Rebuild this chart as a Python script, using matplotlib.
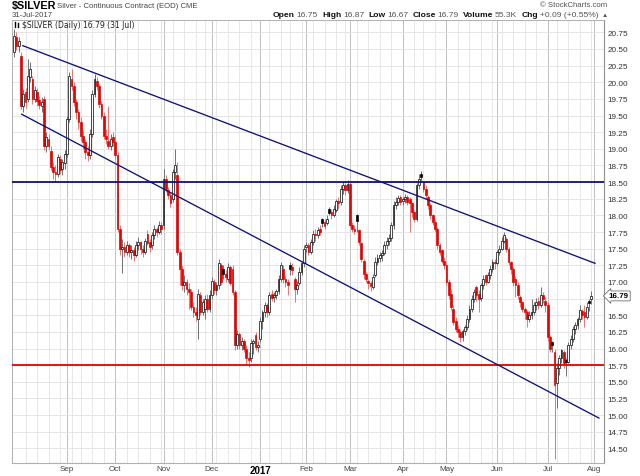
import numpy as np
import pandas as pd
import matplotlib
matplotlib.use("Agg")
import matplotlib.pyplot as plt
from matplotlib.lines import Line2D
import matplotlib.transforms as mtransforms

# $SILVER daily candles, 1-Aug-2016 .. 31-Jul-2017 (one row per month)
opens = [
    20.45, 20.68, 20.55, 20.40, 19.65, 19.85, 19.75, 20.08, 20.05, 19.75, 19.85, 19.73, 19.65, 19.75, 19.05, 19.15, 18.96, 18.72, 18.65, 18.62, 18.85, 18.70, 18.78,
    18.92, 19.45, 20.05, 19.95, 19.70, 19.55, 19.40, 19.20, 19.10, 18.95, 18.90, 19.22, 19.82, 20.02, 19.95, 19.68, 19.50, 19.20, 19.12, 19.05, 19.18,
    19.10, 18.90, 17.80, 17.50, 17.52, 17.45, 17.55, 17.45, 17.48, 17.40, 17.55, 17.60, 17.50, 17.45, 17.72, 17.60, 17.55, 17.70, 17.80, 17.75, 17.86,
    17.85, 18.55, 18.38, 18.30, 18.25, 18.65, 18.60, 17.45, 17.20, 16.95, 17.00, 16.90, 16.85, 16.62, 16.55, 16.45, 16.80, 16.55, 16.60, 16.75, 16.60,
    16.80, 17.00, 16.88, 16.95, 17.25, 17.20, 17.12, 17.05, 17.22, 17.20, 16.85, 16.05, 16.22, 16.05, 16.12, 16.00, 15.85, 15.85, 16.08, 16.20, 16.02,
    16.15, 16.42, 16.55, 16.65, 16.55, 16.82, 16.78, 16.80, 16.86, 17.05, 17.20, 17.05, 17.00, 17.25, 17.22, 17.05, 16.90, 16.98, 17.15, 17.28,
    17.52, 17.56, 17.45, 17.60, 17.72, 17.70, 17.80, 17.94, 17.90, 17.88, 18.10, 18.05, 18.00, 18.08, 18.22, 18.20, 18.40, 18.45, 18.38,
    18.47, 17.85, 17.80, 18.00, 17.78, 17.58, 17.32, 17.12, 17.02, 16.98, 16.92, 17.10, 17.30, 17.36, 17.40, 17.43, 17.55, 17.62, 17.66, 17.85, 18.15, 18.20, 18.27,
    18.22, 18.24, 18.28, 18.25, 18.18, 18.05, 17.95, 18.45, 18.62, 18.50, 18.40, 18.28, 18.15, 18.00, 17.90, 17.80, 17.55, 17.48, 17.32,
    17.25, 17.00, 16.82, 16.60, 16.42, 16.30, 16.25, 16.18, 16.26, 16.32, 16.45, 16.60, 16.75, 16.92, 16.82, 16.76, 16.95, 17.10, 17.00, 17.10, 17.20, 17.30,
    17.28, 17.45, 17.50, 17.62, 17.65, 17.50, 17.30, 17.20, 17.05, 16.95, 16.78, 16.70, 16.60, 16.55, 16.45, 16.50, 16.55, 16.65, 16.72, 16.65, 16.80, 16.72,
    16.65, 16.18, 16.10, 15.95, 15.48, 15.70, 15.85, 15.95, 15.82, 15.80, 16.05, 16.15, 16.30, 16.35, 16.45, 16.56, 16.55, 16.48, 16.72, 16.75,
]
highs = [
    20.80, 20.75, 20.68, 20.45, 19.90, 19.92, 20.35, 20.30, 20.10, 19.95, 19.92, 19.80, 19.78, 19.80, 19.25, 19.22, 19.05, 18.80, 18.75, 18.92, 18.90, 18.85, 18.98,
    19.50, 20.15, 20.20, 20.00, 19.75, 19.60, 19.48, 19.28, 19.15, 19.05, 19.30, 19.88, 20.12, 20.08, 19.98, 19.72, 19.55, 19.30, 19.65, 19.22, 19.25,
    19.20, 18.95, 17.85, 17.65, 17.60, 17.62, 17.58, 17.55, 17.52, 17.62, 17.68, 17.62, 17.55, 17.66, 17.78, 17.65, 17.75, 17.85, 17.82, 17.92, 17.90,
    18.70, 18.60, 18.42, 18.35, 18.70, 19.00, 18.80, 17.50, 17.25, 17.10, 17.05, 16.98, 16.90, 16.70, 16.62, 16.90, 16.85, 16.75, 16.80, 16.82, 16.88,
    17.08, 17.05, 17.00, 17.35, 17.28, 17.25, 17.18, 17.28, 17.25, 17.25, 16.88, 16.28, 16.25, 16.18, 16.15, 16.05, 15.95, 16.15, 16.15, 16.25, 16.12,
    16.48, 16.58, 16.70, 16.68, 16.85, 16.88, 16.85, 16.90, 17.10, 17.30, 17.25, 17.10, 17.05, 17.30, 17.28, 17.08, 17.02, 17.22, 17.32, 17.55,
    17.60, 17.58, 17.65, 17.78, 17.80, 17.82, 17.85, 17.96, 17.94, 18.00, 18.12, 18.10, 18.15, 18.25, 18.28, 18.45, 18.50, 18.48, 18.53,
    18.50, 17.90, 17.85, 18.02, 17.80, 17.60, 17.35, 17.15, 17.05, 17.02, 17.12, 17.38, 17.42, 17.45, 17.48, 17.62, 17.68, 17.72, 17.90, 18.22, 18.28, 18.30, 18.30,
    18.28, 18.32, 18.30, 18.28, 18.20, 18.08, 18.48, 18.62, 18.67, 18.52, 18.45, 18.30, 18.18, 18.02, 17.95, 17.82, 17.58, 17.50, 17.38,
    17.28, 17.05, 16.90, 16.65, 16.48, 16.35, 16.30, 16.30, 16.36, 16.50, 16.65, 16.80, 16.90, 16.95, 16.88, 16.98, 17.10, 17.12, 17.15, 17.25, 17.35, 17.35,
    17.48, 17.55, 17.68, 17.75, 17.68, 17.52, 17.32, 17.22, 17.09, 17.00, 16.80, 16.72, 16.62, 16.58, 16.56, 16.75, 16.70, 16.76, 16.78, 16.92, 16.85, 16.78,
    16.70, 16.20, 16.12, 16.00, 15.78, 15.90, 16.00, 15.98, 15.85, 16.10, 16.20, 16.34, 16.40, 16.48, 16.65, 16.60, 16.65, 16.70, 16.75, 16.87,
]
lows = [
    20.38, 20.48, 20.45, 19.60, 19.55, 19.62, 19.70, 20.00, 19.68, 19.70, 19.65, 19.60, 19.55, 18.98, 18.95, 18.98, 18.68, 18.55, 18.50, 18.58, 18.62, 18.60, 18.70,
    18.88, 19.40, 19.88, 19.65, 19.45, 19.30, 19.12, 19.00, 18.85, 18.82, 18.85, 19.18, 19.78, 19.88, 19.62, 19.45, 19.15, 19.08, 19.00, 18.98, 19.05,
    18.85, 17.75, 17.40, 17.14, 17.38, 17.40, 17.38, 17.35, 17.32, 17.38, 17.48, 17.42, 17.38, 17.42, 17.55, 17.45, 17.50, 17.65, 17.68, 17.72, 17.72,
    17.80, 18.35, 18.25, 18.12, 18.20, 18.55, 17.40, 16.95, 16.88, 16.85, 16.80, 16.60, 16.58, 16.48, 16.42, 16.14, 16.50, 16.50, 16.45, 16.55, 16.55,
    16.75, 16.82, 16.80, 16.90, 16.95, 17.05, 17.00, 17.00, 16.95, 16.80, 15.98, 16.00, 16.00, 15.98, 15.95, 15.75, 15.72, 15.80, 15.92, 15.98, 15.95,
    16.10, 16.30, 16.48, 16.48, 16.50, 16.72, 16.70, 16.75, 16.82, 17.00, 16.98, 16.92, 16.80, 17.10, 17.10, 16.70, 16.82, 16.95, 17.10, 17.22,
    17.45, 17.40, 17.42, 17.55, 17.62, 17.66, 17.70, 17.82, 17.80, 17.85, 18.00, 17.95, 17.98, 18.05, 18.10, 18.15, 18.32, 18.30, 18.33,
    17.82, 17.75, 17.72, 17.75, 17.55, 17.30, 17.05, 17.00, 16.90, 16.87, 16.90, 17.08, 17.25, 17.30, 17.32, 17.40, 17.50, 17.55, 17.62, 17.80, 18.10, 18.15, 18.15,
    18.15, 18.18, 18.15, 17.75, 17.98, 17.90, 17.92, 18.40, 18.52, 18.35, 18.25, 18.10, 17.95, 17.85, 17.75, 17.50, 17.40, 17.28, 17.20,
    16.95, 16.75, 16.58, 16.35, 16.25, 16.18, 16.10, 16.12, 16.20, 16.28, 16.40, 16.55, 16.70, 16.72, 16.55, 16.72, 16.90, 16.95, 16.98, 17.05, 17.15, 17.20,
    17.25, 17.40, 17.48, 17.58, 17.45, 17.25, 17.12, 16.94, 16.78, 16.74, 16.62, 16.55, 16.45, 16.32, 16.40, 16.45, 16.50, 16.58, 16.60, 16.62, 16.68, 16.55,
    16.12, 15.95, 15.95, 14.34, 15.10, 15.60, 15.78, 15.70, 15.59, 15.78, 16.00, 16.10, 16.22, 16.30, 16.40, 16.45, 16.32, 16.45, 16.56, 16.67,
]
closes = [
    20.70, 20.55, 20.62, 19.65, 19.82, 19.70, 20.10, 20.20, 19.75, 19.88, 19.72, 19.66, 19.70, 19.05, 19.18, 19.05, 18.72, 18.65, 18.62, 18.88, 18.68, 18.80, 18.92,
    19.45, 20.10, 19.95, 19.70, 19.55, 19.40, 19.20, 19.10, 18.95, 18.90, 19.22, 19.82, 20.05, 19.95, 19.68, 19.50, 19.20, 19.15, 19.05, 19.15, 19.10,
    18.90, 17.80, 17.50, 17.52, 17.45, 17.55, 17.45, 17.48, 17.40, 17.55, 17.60, 17.50, 17.45, 17.62, 17.58, 17.52, 17.70, 17.80, 17.75, 17.86, 17.80,
    18.55, 18.40, 18.30, 18.18, 18.65, 18.75, 17.45, 17.20, 16.95, 17.00, 16.90, 16.85, 16.62, 16.55, 16.50, 16.82, 16.55, 16.70, 16.75, 16.60, 16.80,
    17.02, 16.88, 16.95, 17.28, 17.00, 17.12, 17.08, 17.22, 16.98, 16.85, 16.05, 16.22, 16.05, 16.12, 16.00, 15.85, 15.82, 16.08, 16.12, 16.02, 16.05,
    16.42, 16.55, 16.65, 16.55, 16.80, 16.76, 16.80, 16.86, 17.05, 17.25, 17.05, 17.00, 16.95, 17.20, 17.18, 16.90, 16.95, 17.15, 17.28, 17.50,
    17.55, 17.45, 17.60, 17.72, 17.70, 17.78, 17.75, 17.88, 17.84, 17.95, 18.03, 18.00, 18.10, 18.22, 18.18, 18.40, 18.45, 18.38, 18.47,
    17.85, 17.80, 17.76, 17.92, 17.60, 17.35, 17.12, 17.05, 16.98, 16.94, 17.08, 17.30, 17.36, 17.40, 17.43, 17.55, 17.62, 17.66, 17.85, 18.15, 18.20, 18.26, 18.20,
    18.24, 18.27, 18.20, 18.18, 18.05, 17.95, 18.45, 18.55, 18.58, 18.40, 18.30, 18.15, 18.00, 17.90, 17.80, 17.55, 17.45, 17.32, 17.25,
    17.00, 16.80, 16.62, 16.40, 16.30, 16.25, 16.18, 16.26, 16.32, 16.45, 16.60, 16.75, 16.85, 16.80, 16.74, 16.95, 17.05, 17.00, 17.10, 17.20, 17.30, 17.28,
    17.45, 17.50, 17.62, 17.70, 17.50, 17.30, 17.20, 17.00, 16.95, 16.80, 16.70, 16.60, 16.55, 16.45, 16.50, 16.55, 16.65, 16.70, 16.65, 16.80, 16.75, 16.65,
    16.18, 16.00, 16.05, 15.45, 15.70, 15.85, 15.98, 15.78, 15.80, 16.05, 16.15, 16.30, 16.35, 16.45, 16.58, 16.50, 16.48, 16.62, 16.68, 16.79,
]

holidays = ["2016-09-05", "2016-11-24", "2016-12-26", "2017-01-02", "2017-01-16",
            "2017-02-20", "2017-04-14", "2017-05-29", "2017-07-04"]
dates = pd.bdate_range("2016-08-01", "2017-07-31")
dates = dates[~dates.isin(pd.to_datetime(holidays))]

# annotation lines drawn on the chart
hlines_blue = [18.50]
hlines_red = [15.75]
upper_trend = [(3.8, 20.55), (252.6, 17.28)]   # (bar number, price)
lower_trend = [(3.3, 19.52), (254.3, 14.955)]

W, H = 640, 477
RED = "#e60000"
NAVY = "#10107a"

o = np.array(opens)
h = np.array(highs)
l = np.array(lows)
c = np.array(closes)
n = len(c)
x = np.arange(n)

fig = plt.figure(figsize=(W / 100, H / 100), dpi=100)
ax = fig.add_axes([11.5 / W, 1 - 464 / H, (604 - 11.5) / W, (464 - 20.7) / H])
ax.set_xlim(-1.1, 256.5)
ax.set_ylim(14.28, 20.94)

# grid: weekly light lines, month lines darker
week_start = [i for i in range(1, n) if dates[i].weekday() < dates[i - 1].weekday()]
month_start = [i for i in range(1, n) if dates[i].month != dates[i - 1].month] + [n]
for i in week_start:
    ax.axvline(i, color="#e4e4e4", lw=0.6, zorder=0)
for i in month_start:
    ax.axvline(i, color="#c0c0c0", lw=0.7, zorder=0)
ax.set_yticks(np.arange(14.5, 20.76, 0.25))
ax.grid(axis="y", color="#e2e2e2", lw=0.6, zorder=0)
ax.set_axisbelow(True)

# candles
prev = np.concatenate([[o[0]], c[:-1]])
edge = np.where(c < prev, RED, "black")
face = np.where(c > o, "white", edge)
wick = np.where(c < prev, "#f07070", "#707070")
ax.vlines(x, l, h, colors=wick, lw=0.7, zorder=2)
body = np.maximum(np.abs(c - o), 0.012)
ax.bar(x, body, bottom=np.minimum(o, c), width=0.8, color=face, edgecolor=edge,
       linewidth=0.5, zorder=3)

# annotation lines
for lv in hlines_blue:
    ax.axhline(lv, color=NAVY, lw=1.3, zorder=4)
for lv in hlines_red:
    ax.axhline(lv, color=RED, lw=1.3, zorder=4)
for pts in (upper_trend, lower_trend):
    ax.plot([p[0] for p in pts], [p[1] for p in pts], color=NAVY, lw=0.95, zorder=4)

# axes styling
for s in ("left", "top"):
    ax.spines[s].set_color("#b0b0b0")
    ax.spines[s].set_linewidth(0.7)
ax.spines["bottom"].set_color("#b0b0b0")
ax.spines["bottom"].set_linestyle((0, (1, 1)))
ax.spines["right"].set_color("#909090")
ax.spines["right"].set_linestyle((0, (1, 1)))
ax.yaxis.tick_right()
ax.tick_params(axis="y", length=0, pad=2.6, labelsize=5.9, labelcolor="#333333")
# the 16.75 label is hidden behind the last-price tag
ax.set_yticklabels(["" if abs(v - 16.75) < 1e-6 else f"{v:.2f}" for v in ax.get_yticks()],
                   family="Liberation Sans")

labels = []
for i in month_start:
    d = dates[i] if i < n else dates[-1] + pd.Timedelta(days=1)
    labels.append(str(d.year) if d.month == 1 else d.strftime("%b"))
ax.set_xticks(month_start)
ax.set_xticklabels(labels, family="Liberation Sans")
ax.tick_params(axis="x", length=0, pad=1.8, labelsize=5.8, labelcolor="#444444")
for t in ax.get_xticklabels():
    if t.get_text() == "2017":
        t.set_fontweight("bold")
        t.set_fontsize(7)
        t.set_color("black")

# last price tag
tr = mtransforms.blended_transform_factory(ax.transAxes, ax.transData)
ax.text(1.008, c[-1], f"{c[-1]:.2f}", transform=tr, fontsize=5.8, fontweight="bold",
        family="Liberation Sans", va="center", ha="left", zorder=6, clip_on=False,
        bbox=dict(boxstyle="larrow,pad=0.18", fc="white", ec="#555555", lw=0.5))

# legend inside the plot
fig.text(22 / W, 1 - 25.5 / H, f"$SILVER (Daily) {c[-1]:.2f} (31 Jul)", fontsize=5.5,
         family="DejaVu Sans", color="#222222", va="center", ha="left")
fig.add_artist(Line2D([15 / W, 15 / W], [1 - 23 / H, 1 - 28 / H], color="black", lw=1.0))
fig.add_artist(Line2D([18 / W, 18 / W], [1 - 23.5 / H, 1 - 27.5 / H], color="black", lw=1.0))

# header
fig.text(12 / W, 1 - 6.5 / H, "$SILVER", fontsize=7.8, fontweight="bold",
         family="Liberation Sans", va="center", ha="left")
fig.text(57 / W, 1 - 6.5 / H, "Silver - Continuous Contract (EOD) CME", fontsize=5.6,
         family="Liberation Sans", color="#444444", va="center", ha="left")
fig.text(12 / W, 1 - 15.5 / H, "31-Jul-2017", fontsize=5.6, family="Liberation Sans",
         color="#444444", va="center", ha="left")
fig.text(607 / W, 1 - 5.5 / H, "\u00a9 StockCharts.com", fontsize=5.6,
         family="Liberation Sans", color="#555555", va="center", ha="right")

parts = [("Open", True), ("16.75", False), ("High", True), ("16.87", False),
         ("Low", True), ("16.67", False), ("Close", True), ("16.79", False),
         ("Volume", True), ("55.3K", False), ("Chg", True), ("+0.09 (+0.55%)", False),
         ("\u25b2", False)]
r = fig.canvas.get_renderer()
xp = 273
for s, bold in parts:
    t = fig.text(xp / W, 1 - 15.5 / H, s, fontsize=6.1 if s != "\u25b2" else 4.5,
                 fontweight="bold" if bold else "normal",
                 family=["Liberation Sans", "DejaVu Sans"],
                 color="#111111" if bold else "#555555", va="center", ha="left")
    xp += t.get_window_extent(renderer=r).width + (1.8 if bold else 4.0)

fig.savefig("out.png", dpi=100)
